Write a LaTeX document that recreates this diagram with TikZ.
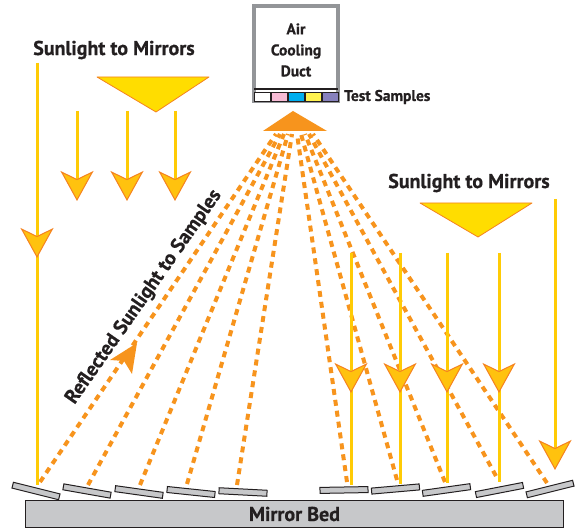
\documentclass[tikz,border=0pt]{standalone}
\usepackage{fontspec}
\setmainfont{PT Sans}[BoldFeatures={FakeBold=0.6}]
\usetikzlibrary{arrows.meta,positioning}
\definecolor{sunline}{HTML}{FFCB05}
\definecolor{sunfill}{HTML}{FFDD00}
\definecolor{headfill}{HTML}{FFC20E}
\definecolor{sunedge}{HTML}{F58220}
\definecolor{beam}{HTML}{F7941D}
\definecolor{mirrorgray}{HTML}{C7C8CA}
\definecolor{ductgray}{HTML}{939598}
\definecolor{inkc}{HTML}{231F20}
\definecolor{pinkc}{HTML}{F7BBD5}
\definecolor{cyanc}{HTML}{00AEEF}
\definecolor{yellowc}{HTML}{FFF24F}
\definecolor{purplec}{HTML}{8781BD}
\tikzset{
  sunhead/.tip={Stealth[length=30pt, width=33pt, inset=8pt, line width=1pt, fill=headfill, color=sunedge]},
  ray/.style={sunline, line width=3pt},
  reflect/.style={beam, line width=4pt, dash pattern=on 6pt off 5pt},
  funnel/.style={fill=sunfill, draw=sunedge, line width=0.8pt, line join=round},
  mirror/.style={draw=inkc, fill=mirrorgray, line width=1pt, minimum width=48pt, minimum height=6pt, inner sep=0pt},
  bed/.style={draw=inkc, fill=mirrorgray, line width=1.2pt, minimum width=538pt, minimum height=27pt, inner sep=0pt},
  duct/.style={draw=ductgray, fill=white, line width=4pt, minimum width=84pt, minimum height=95pt, inner sep=0pt},
  cell/.style={draw=inkc, line width=0.8pt, minimum width=16pt, minimum height=9pt, inner sep=0pt},
  bigtext/.style={font=\bfseries\fontsize{20}{24}\selectfont, text=inkc, inner sep=0pt},
  smalltext/.style={font=\bfseries\fontsize{15.5}{21}\selectfont, text=inkc, inner sep=0pt, align=center}
}
\begin{document}
\begin{tikzpicture}[x=1pt, y=-1pt]
  \useasboundingbox (0,0) rectangle (576,529);

  % bed and mirrors
  \node[bed, font=\bfseries\fontsize{20}{24}\selectfont, text=inkc] (bed) at (294.5,514) {Mirror Bed};
  \foreach \x/\e/\a [count=\i] in {36/491/-14, 87/491/-10, 139/492/-8, 191/492/-6, 243/492/-3,
                                     344/490/1, 395.5/489/5, 446.5/490/8, 499.5/490/11, 550/489/14}
    \node[mirror, rotate=\a] (m\i) at (\x,\e) {};

  % reflected light
  \foreach \sx/\sy/\tx [count=\i] in {40/482/276, 88/485/280, 140/485/284, 187/484/288, 237/485/292,
                                       347/482/297, 397/480/301, 445/482/305, 496/476/309, 547/483/313} {
    \coordinate (r\i) at (\sx,\sy);
    \coordinate (f\i) at (\tx,134);
    \draw[reflect] (r\i) -- (f\i);
  }
  \coordinate (focus) at (293,111);
  \fill[beam] (263,131) -- (327,131) -- (focus) -- cycle;
  \fill[beam] (137,343) -- (110,360) -- (124,361) -- (132,374) -- cycle;
  \node[bigtext, rotate=55] (reflabel) at (144,297) {Reflected Sunlight to Samples};

  % sunlight, left
  \node[bigtext] (sunL) at (114,50) {Sunlight to Mirrors};
  \draw[funnel] (97,77) -- (209,77) -- (156,112) -- cycle;
  \foreach \x [count=\i] in {77,127,175} {
    \coordinate (la\i) at (\x,111);
    \coordinate (lb\i) at (\x,201);
    \draw[ray, -{sunhead}] (la\i) -- (lb\i);
  }
  \coordinate (ltop) at (37,63);
  \coordinate (lhead) at (37,258);
  \coordinate (lfoot) at (37,485);
  \draw[ray] (ltop) -- (lfoot);
  \draw[ray, -{sunhead}] (ltop) -- (lhead);

  % sunlight, right
  \node[bigtext] (sunR) at (469,183) {Sunlight to Mirrors};
  \draw[funnel] (420,203) -- (532,203) -- (478,237) -- cycle;
  \foreach \x/\e [count=\i] in {351/485, 400/484, 447/483, 499/482} {
    \coordinate (ra\i) at (\x,253);
    \coordinate (rb\i) at (\x,393);
    \coordinate (rc\i) at (\x,\e);
    \draw[ray] (ra\i) -- (rc\i);
    \draw[ray, -{sunhead}] (ra\i) -- (rb\i);
  }
  \coordinate (rtop) at (555,199);
  \coordinate (rhead) at (555,470);
  \draw[ray, -{sunhead}] (rtop) -- (rhead);

  % duct and samples
  \node[duct] (duct) at (296,53.5) {};
  \node[smalltext] (ducttext) at (296,50) {Air\\Cooling\\Duct};
  \coordinate (barL) at (254,89);
  \coordinate (barR) at (338,89);
  \draw[inkc, line width=1.5pt] (barL) -- (barR);
  \foreach \c [count=\i] in {white,pinkc,cyanc,yellowc,purplec}
    \node[cell, fill=\c] (c\i) at ({245.5+17*\i},97) {};
  \node[smalltext, right=5pt of c5] (samples) {Test Samples};
\end{tikzpicture}
\end{document}
